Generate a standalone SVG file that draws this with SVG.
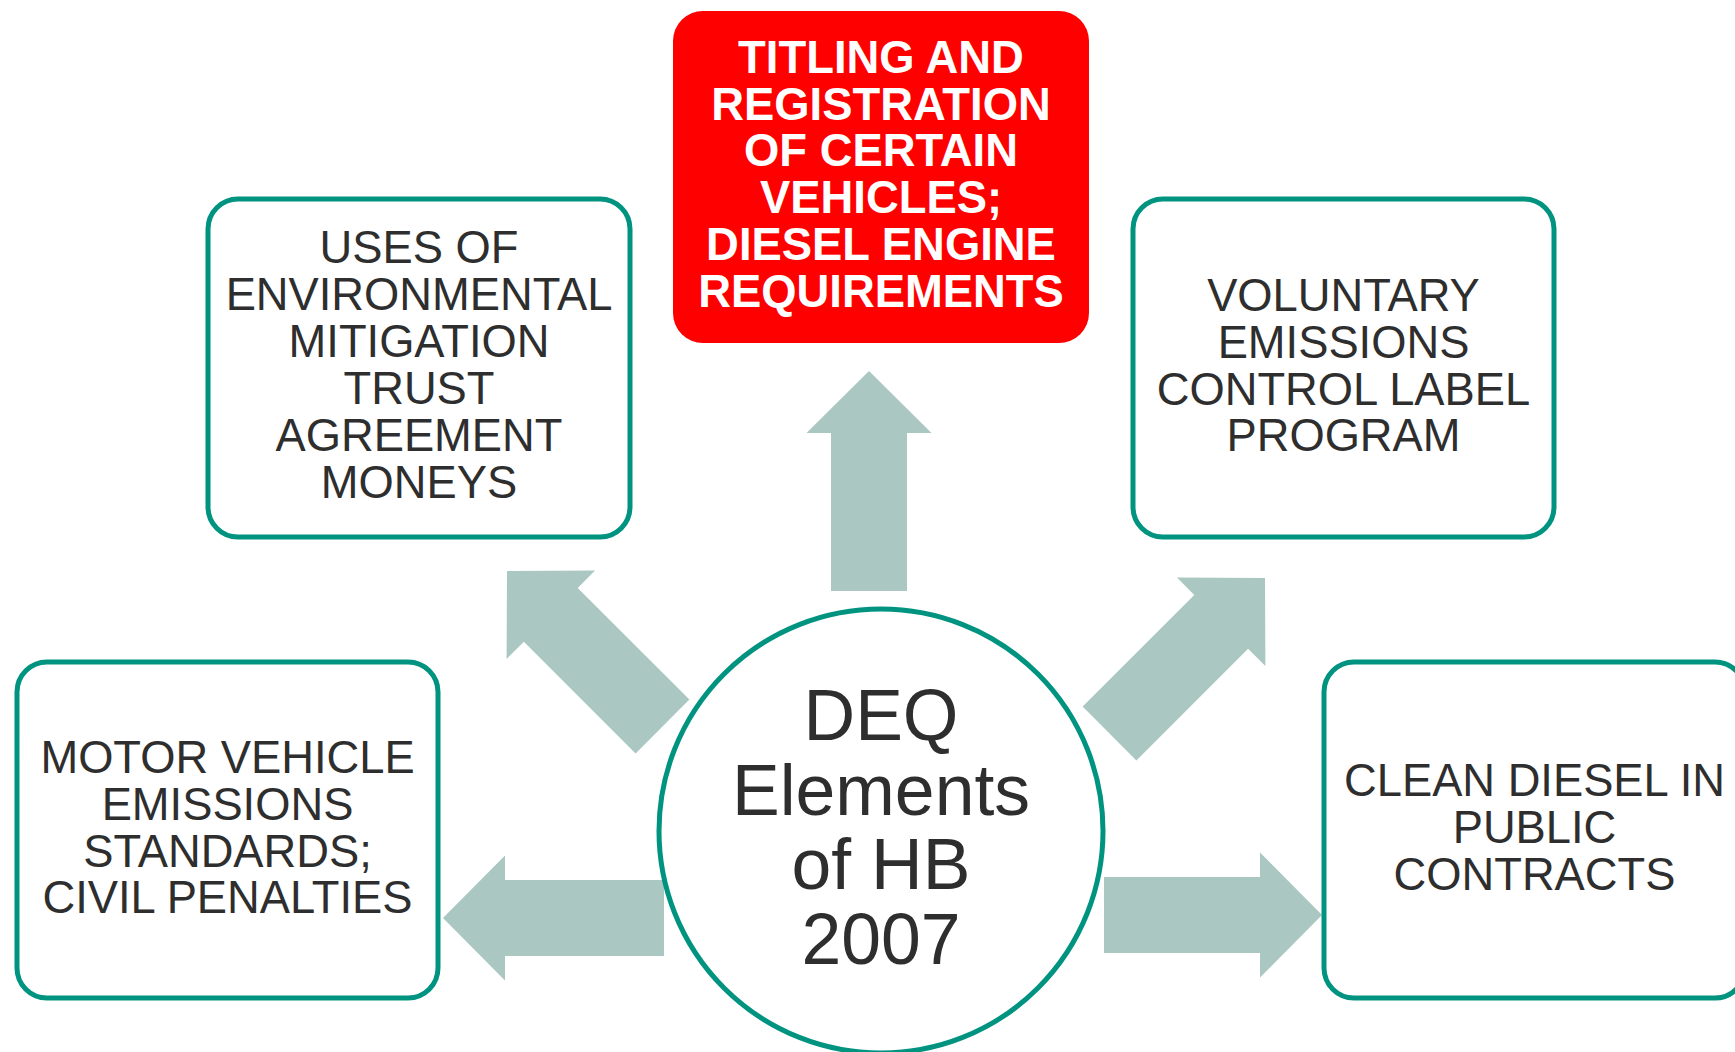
<svg xmlns="http://www.w3.org/2000/svg" width="1735" height="1052" viewBox="0 0 1735 1052">
<style>
.box{fill:#FFFFFF;stroke:#009480;stroke-width:5}
.arrow{fill:#ABC7C1}
.t{font-family:"Liberation Sans",Arial,sans-serif;font-size:45.3px;fill:#2E2E2E;text-anchor:middle}
.tb{font-family:"Liberation Sans",Arial,sans-serif;font-size:45.4px;font-weight:bold;fill:#FFFFFF;text-anchor:middle}
.tc{font-family:"Liberation Sans",Arial,sans-serif;font-size:71.5px;fill:#2E2E2E;text-anchor:middle}
</style>
<rect width="1735" height="1052" fill="#FFFFFF"/>
<g id="connectors">
<polygon class="arrow" points="869,371 931.5,433 907,433 907,591 831,591 831,433 806.5,433"/>
<polygon class="arrow" points="507,571 595,570.6 577.7,587.9 689.4,699.6 635.6,753.4 523.9,641.7 506.6,659"/>
<polygon class="arrow" points="1265,578 1265.4,666 1248.1,648.7 1136.4,760.4 1082.6,706.6 1194.3,594.9 1177,577.6"/>
<polygon class="arrow" points="443,918 505,855.5 505,880 664,880 664,956 505,956 505,980.5"/>
<polygon class="arrow" points="1322,915 1260,852.5 1260,877 1104,877 1104,953 1260,953 1260,977.5"/>
</g>
<g id="node-center">
<circle class="box" cx="881" cy="831" r="222"/>
<text class="tc" x="881" y="740">DEQ</text>
<text class="tc" x="881" y="814.5">Elements</text>
<text class="tc" x="881" y="889">of HB</text>
<text class="tc" x="881" y="963.5">2007</text>
</g>
<g id="node-titling">
<rect x="673" y="11" width="416" height="332" rx="30" ry="30" fill="#FF0000"/>
<text class="tb" x="881" y="73">TITLING AND</text>
<text class="tb" x="881" y="119.5">REGISTRATION</text>
<text class="tb" x="881" y="166">OF CERTAIN</text>
<text class="tb" x="881" y="213">VEHICLES;</text>
<text class="tb" x="881" y="259.5">DIESEL ENGINE</text>
<text class="tb" x="881" y="306.5">REQUIREMENTS</text>
</g>
<g id="node-uses">
<rect class="box" x="208" y="199" width="422" height="338" rx="30" ry="30"/>
<text class="t" x="419" y="263">USES OF</text>
<text class="t" x="419" y="310">ENVIRONMENTAL</text>
<text class="t" x="419" y="357">MITIGATION</text>
<text class="t" x="419" y="404">TRUST</text>
<text class="t" x="419" y="451">AGREEMENT</text>
<text class="t" x="419" y="498">MONEYS</text>
</g>
<g id="node-voluntary">
<rect class="box" x="1133" y="199" width="421" height="338" rx="30" ry="30"/>
<text class="t" x="1343.5" y="311">VOLUNTARY</text>
<text class="t" x="1343.5" y="358">EMISSIONS</text>
<text class="t" x="1343.5" y="405">CONTROL LABEL</text>
<text class="t" x="1343.5" y="451">PROGRAM</text>
</g>
<g id="node-motor">
<rect class="box" x="17" y="662" width="421" height="336" rx="30" ry="30"/>
<text class="t" x="227.5" y="773">MOTOR VEHICLE</text>
<text class="t" x="227.5" y="820">EMISSIONS</text>
<text class="t" x="227.5" y="867">STANDARDS;</text>
<text class="t" x="227.5" y="913">CIVIL PENALTIES</text>
</g>
<g id="node-clean">
<rect class="box" x="1324" y="662" width="421" height="336" rx="30" ry="30"/>
<text class="t" x="1534.5" y="796">CLEAN DIESEL IN</text>
<text class="t" x="1534.5" y="843">PUBLIC</text>
<text class="t" x="1534.5" y="890">CONTRACTS</text>
</g>
</svg>
